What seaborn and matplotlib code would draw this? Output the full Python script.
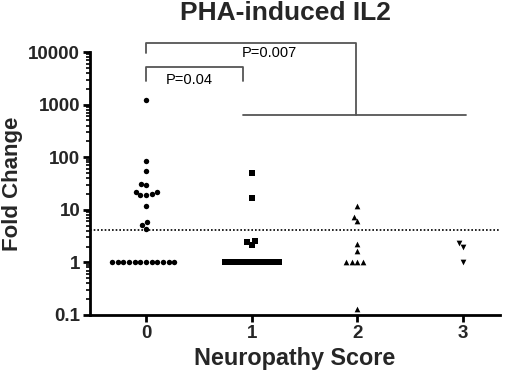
import matplotlib
matplotlib.use("Agg")
import matplotlib.pyplot as plt
import matplotlib.ticker as mticker
import seaborn as sns
import pandas as pd

# ---- data ----
score0 = [1250, 85, 55, 29, 31, 22, 19, 19, 20, 22, 12, 5.1, 5.8, 4.3] + [1] * 12
score1 = [50, 17, 2.45, 2.15, 2.56] + [1] * 11
score2 = [11.8, 7.4, 6.1, 2.27, 1.64, 1, 1, 1, 1, 0.128]
score3 = [2.37, 1.99, 1.0]
groups = [0, 1, 2, 3]
threshold = 4.2
ytick_vals = [0.1, 1, 10, 100, 1000, 10000]
ytick_labels = ["0.1", "1", "10", "100", "1000", "10000"]
p_texts = ["P=0.04", "P=0.007"]
title = "PHA-induced IL2"
xlabel = "Neuropathy Score"
ylabel = "Fold Change"

sns.set_style("ticks")
plt.rcParams["font.family"] = ["Liberation Sans", "DejaVu Sans"]

fig = plt.figure(figsize=(5.2, 3.77), dpi=100)
ax = fig.add_axes([0.173, 0.1645, 0.789, 0.6975])
ax.set_yscale("log")
ax.set_ylim(0.1, 10000)
ax.set_xlim(-0.53, 3.35)

series = [score0, score1, score2, score3]
markers = ["o", "s", "^", "v"]
sizes = [3.9, 3.7, 4.1, 4.1]
for g, vals, m, s in zip(groups, series, markers, sizes):
    df = pd.DataFrame({"score": [g] * len(vals), "fold": vals})
    sns.swarmplot(data=df, x="score", y="fold", order=groups, marker=m,
                  color="black", size=s, linewidth=0, ax=ax)

ax.set_xlim(-0.53, 3.35)
ax.set_ylim(0.1, 10000)

# threshold dotted line
ax.axhline(threshold, color="black", linestyle=(0, (1, 1.2)), linewidth=1.2, zorder=1)

# significance brackets
lc = "#555555"
lw = 1.3
ax.plot([0, 0, 0.915, 0.915], [2800, 5100, 5100, 2800], color=lc, lw=lw, clip_on=False)
ax.plot([0, 0, 1.99, 1.99], [9700, 15000, 15000, 624], color=lc, lw=lw, clip_on=False)
ax.plot([0.915, 3.025], [624, 624], color=lc, lw=lw, clip_on=False)
ax.text(0.41, 2900, p_texts[0], ha="center", va="center", fontsize=10.5, color="black")
ax.text(1.17, 9400, p_texts[1], ha="center", va="center", fontsize=10.5, color="black")

# axes styling
ax.set_yticks(ytick_vals)
ax.set_yticklabels(ytick_labels)
ax.yaxis.set_minor_locator(mticker.LogLocator(base=10, subs=range(2, 10), numticks=20))
ax.yaxis.set_minor_formatter(mticker.NullFormatter())
ax.set_xticks(groups)
ax.set_xticklabels([str(g) for g in groups])
for lab in ax.get_xticklabels() + ax.get_yticklabels():
    lab.set_fontweight("bold")
    lab.set_fontsize(13.5)
ax.tick_params(axis="both", which="major", length=5, width=2, color="black", pad=2)
ax.tick_params(axis="y", which="minor", length=3, width=1.2, color="black")
for side in ["top", "right"]:
    ax.spines[side].set_visible(False)
for side in ["left", "bottom"]:
    ax.spines[side].set_linewidth(2)
    ax.spines[side].set_color("black")

ax.set_xlabel(xlabel, fontsize=16.8, fontweight="bold", labelpad=4)
ax.set_ylabel(ylabel, fontsize=16, fontweight="bold", labelpad=4)
fig.text(0.548, 0.947, title, ha="center", va="baseline", fontsize=19, fontweight="bold")

fig.savefig("out.png", dpi=100)
